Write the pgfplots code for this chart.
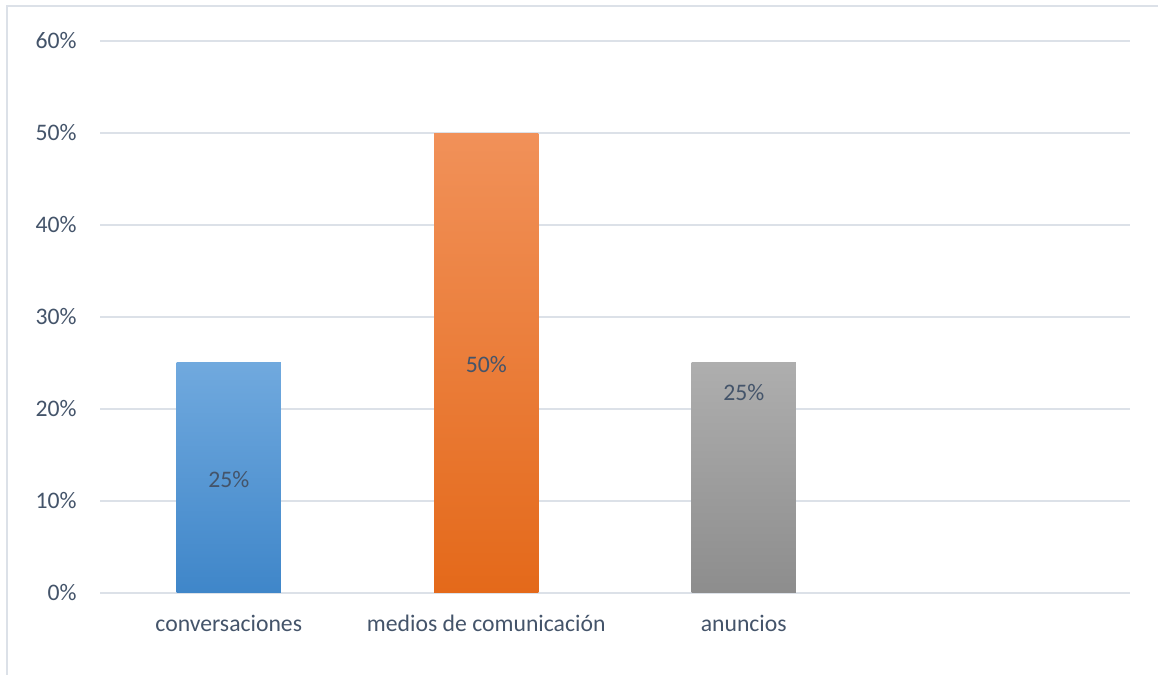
\documentclass[border=0pt]{standalone}
\usepackage{pgfplots}
\pgfplotsset{compat=1.18}
\usepackage{fontspec}
\setmainfont{Carlito}
\definecolor{txt}{HTML}{44546A}
\definecolor{grd}{HTML}{DCE1E8}
\definecolor{bord}{HTML}{DCE1E8}
\definecolor{blueT}{HTML}{70A9DE}
\definecolor{blueB}{HTML}{3F86C9}
\definecolor{orT}{HTML}{F19159}
\definecolor{orB}{HTML}{E4691A}
\definecolor{grT}{HTML}{AEAEAE}
\definecolor{grB}{HTML}{8D8D8D}
\newcommand{\lbl}{\fontsize{11.85}{14}\selectfont}
\begin{document}
\begin{tikzpicture}
\useasboundingbox (0pt,0pt) rectangle (579pt,337.5pt);
\draw[bord, line width=1pt] (3.5pt,0pt) -- (3.5pt,334.25pt) -- (579pt,334.25pt);
\begin{axis}[
  at={(50pt,41pt)}, anchor=south west,
  width=515pt, height=276pt, scale only axis,
  xmin=-0.5, xmax=3.5, ymin=0, ymax=60,
  xtick={0,1,2},
  xticklabels={conversaciones, medios de comunicación, anuncios},
  ytick={0,10,20,30,40,50,60},
  yticklabels={0\%,10\%,20\%,30\%,40\%,50\%,60\%},
  ymajorgrids, grid style={grd, line width=1pt},
  axis line style={draw=none},
  major tick length=0pt,
  tick label style={font=\lbl, text=txt},
  x tick label style={anchor=base, inner sep=0pt, yshift=-19.5pt},
  y tick label style={anchor=east, inner sep=0pt, xshift=-11.5pt},
  clip=false,
]
\addplot[ybar, bar width=0.404, bar shift=0pt, draw=none, top color=blueT, bottom color=blueB] coordinates {(0,25)};
\addplot[ybar, bar width=0.404, bar shift=0pt, draw=none, top color=orT, bottom color=orB] coordinates {(1,50)};
\addplot[ybar, bar width=0.404, bar shift=0pt, draw=none, top color=grT, bottom color=grB] coordinates {(2,25)};
\node[font=\lbl, text=txt, inner sep=0pt, yshift=-0.9pt] at (axis cs:0,12.5) {25\%};
\node[font=\lbl, text=txt, inner sep=0pt, yshift=-0.9pt] at (axis cs:1,25) {50\%};
\node[font=\lbl, text=txt, inner sep=0pt, yshift=-0.6pt] at (axis cs:2,21.96) {25\%};
\end{axis}
\end{tikzpicture}
\end{document}
